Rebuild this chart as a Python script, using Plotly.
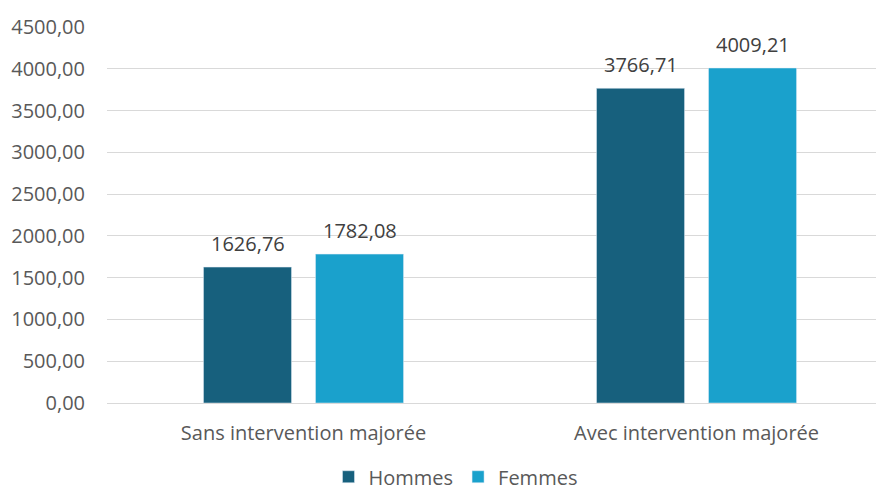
import plotly.graph_objects as go

categories = ['Sans intervention majorée', 'Avec intervention majorée']
hommes = [1626.76, 3766.71]
femmes = [1782.08, 4009.21]
y_ticks = [0, 500, 1000, 1500, 2000, 2500, 3000, 3500, 4000, 4500]

font = dict(family='Open Sans', size=20, color='#595959')

fig = go.Figure()
fig.add_trace(go.Bar(x=categories, y=hommes, name='Hommes', marker_color='#17607D'))
fig.add_trace(go.Bar(x=categories, y=femmes, name='Femmes', marker_color='#1AA1CC'))

# data labels, lifted a little above the bars like the original
for values, shift in [(hommes, -56), (femmes, 56)]:
    for cat, v in zip(categories, values):
        fig.add_annotation(x=cat, y=v, text=f'{v:.2f}'.replace('.', ','), showarrow=False,
                           xshift=shift, yshift=8, yanchor='bottom',
                           font=dict(size=20, color='#404040'))

# page body has an 8px margin, so the plot box is offset to land where the original sits
fig.update_layout(width=884, height=489, font=font, separators=', ',
                  plot_bgcolor='white', paper_bgcolor='white',
                  margin=dict(l=99, r=8, t=19, b=94, autoexpand=False),
                  barmode='group', bargap=0.43, bargroupgap=0.214,
                  legend=dict(orientation='h', x=0.4485, xanchor='center', y=-0.248, yanchor='bottom',
                              font=dict(size=20), itemwidth=30))
fig.update_xaxes(range=[-0.5, 1.477], showgrid=False, showline=True, linecolor='#d9d9d9',
                 ticks='', ticklabelstandoff=12)
fig.update_yaxes(range=[0, 4500], tickvals=y_ticks, tickformat='.2f', gridcolor='#d9d9d9',
                 zeroline=False, showline=False, ticks='', ticklabelstandoff=21)

fig.write_html('out.html')
